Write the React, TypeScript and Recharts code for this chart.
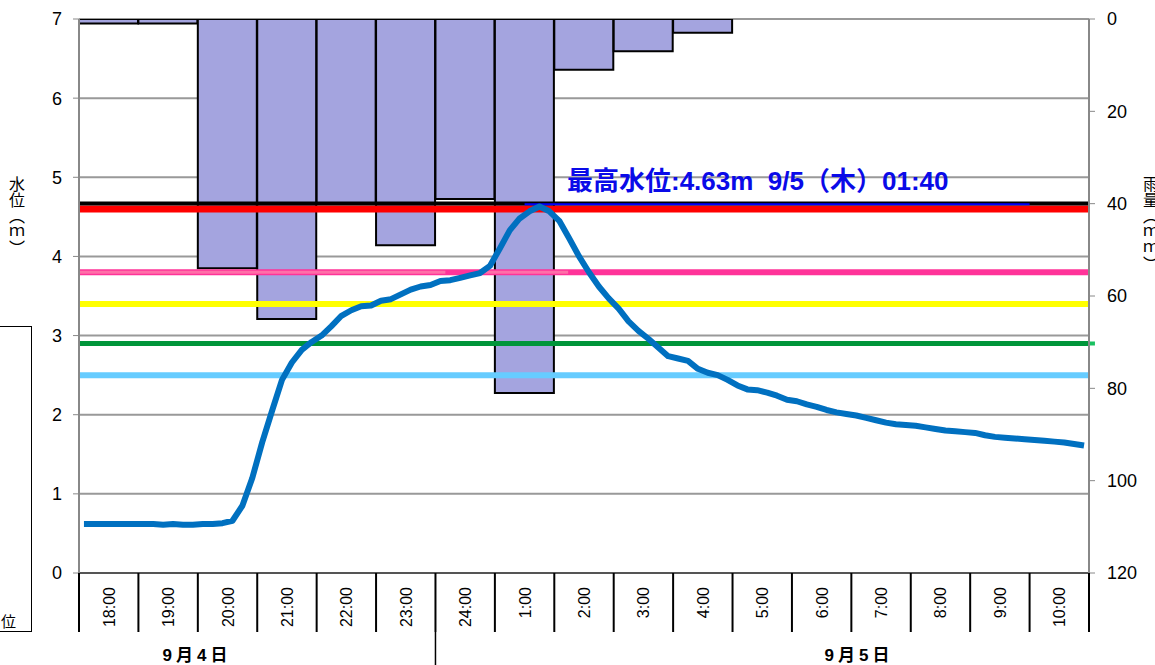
import React from "react"
import {
  Bar,
  CartesianGrid,
  ComposedChart,
  Line,
  ReferenceLine,
  XAxis,
  YAxis,
} from "recharts"

// hourly rainfall (mm), one bar per hour
const hours = [
  "18:00", "19:00", "20:00", "21:00", "22:00", "23:00", "24:00", "1:00", "2:00",
  "3:00", "4:00", "5:00", "6:00", "7:00", "8:00", "9:00", "10:00",
]
const rainfall = [1, 1, 54, 65, 40, 49, 39, 81, 11, 7, 3, 0, 0, 0, 0, 0, 0]

// water level (m), every 10 minutes from 18:00
const waterLevel = [
  0.62, 0.62, 0.62, 0.62, 0.62, 0.62, 0.62, 0.62, 0.61, 0.62, 0.61, 0.61, 0.62, 0.62, 0.63, 0.66,
  0.85, 1.2, 1.65, 2.05, 2.44, 2.66, 2.82, 2.92,
  3.0, 3.12, 3.25, 3.32, 3.37, 3.38, 3.44, 3.46, 3.52, 3.58, 3.62, 3.64, 3.69, 3.7, 3.73, 3.76, 3.79, 3.88,
  4.1, 4.33, 4.48, 4.57, 4.63, 4.57, 4.45, 4.23, 4.0, 3.8, 3.62, 3.47,
  3.34, 3.18, 3.06, 2.96, 2.85, 2.74, 2.71, 2.68, 2.58, 2.53, 2.5, 2.44,
  2.37, 2.32, 2.31, 2.28, 2.24, 2.19, 2.17, 2.13, 2.1, 2.06, 2.03, 2.01,
  1.99, 1.96, 1.93, 1.9, 1.88, 1.87, 1.86, 1.84, 1.82, 1.8, 1.79, 1.78,
  1.77, 1.74, 1.72, 1.71, 1.7, 1.69, 1.68, 1.67, 1.66, 1.65, 1.63, 1.61,
]

const levelTicks = [0, 1, 2, 3, 4, 5, 6, 7]
const rainTicks = [0, 20, 40, 60, 80, 100, 120]
// reference levels: black, red, pink, yellow, green, light blue
const refLevels = [4.67, 4.6, 3.8, 3.4, 2.9, 2.5]
const peakMarkLevel = 4.66
const peakText = "最高水位:4.63m  9/5（木）01:40"
const dates = ["9月4日", "9月5日"]

const rainRows = hours.map((h, i) => ({ hour: h, rain: rainfall[i] }))
const levelRows = waterLevel.map((v, i) => ({ slot: i, level: v }))

const W = 1155
const H = 665
const LEFT = 79
const RIGHT = 66
const band = (W - LEFT - RIGHT) / hours.length
const font = "'Liberation Sans', Arial, sans-serif"
const cjk = "'Noto Sans CJK JP', sans-serif"

function HourTick(props: any) {
  const { x, y, payload, index } = props
  const left = x - band / 2
  return (
    <g>
      <line x1={left} x2={left} y1={y} y2={y + 59} stroke="#000" strokeWidth={2} />
      {index === hours.length - 1 && (
        <line x1={x + band / 2} x2={x + band / 2} y1={y} y2={y + 59} stroke="#000" strokeWidth={2} />
      )}
      {index === 6 && (
        <line x1={left} x2={left} y1={y + 59} y2={y + 95} stroke="#000" strokeWidth={1.5} />
      )}
      <text
        transform={`translate(${x + 6},${y + 14}) rotate(-90)`}
        textAnchor="end"
        fontSize={16}
        fontFamily={font}
        fill="#000"
      >
        {payload.value}
      </text>
    </g>
  )
}

const dateStyle: React.CSSProperties = {
  position: "absolute",
  top: 647,
  transform: "translateX(-50%)",
  fontSize: 17,
  lineHeight: "17px",
  letterSpacing: 4,
  fontWeight: "bold",
  fontFamily: font + ", " + cjk,
  whiteSpace: "nowrap",
}

export default function App() {
  const last = waterLevel.length
  return (
    <div style={{ position: "absolute", left: 0, top: 0, width: W, height: H, overflow: "hidden", background: "#fff", fontFamily: font }}>
      <ComposedChart
        width={W}
        height={H}
        data={rainRows}
        margin={{ top: 19, right: 0, bottom: 0, left: 0 }}
        barCategoryGap={0}
        barGap={0}
      >
        <CartesianGrid xAxisId="cat" yAxisId="lv" vertical={false} stroke="#999" strokeWidth={2} />
        <XAxis
          xAxisId="cat"
          dataKey="hour"
          type="category"
          height={92}
          interval={0}
          tickSize={0}
          tickMargin={0}
          tickLine={false}
          axisLine={{ stroke: "#555", strokeWidth: 2 }}
          tick={<HourTick />}
        />
        <XAxis xAxisId="num" dataKey="slot" type="number" domain={[-0.5, last - 0.5]} allowDataOverflow hide />
        <YAxis
          yAxisId="lv"
          domain={[0, 7]}
          ticks={levelTicks}
          width={LEFT}
          allowDataOverflow
          axisLine={{ stroke: "#888", strokeWidth: 2 }}
          tickLine={{ stroke: "#888" }}
          tickSize={6}
          tickMargin={11}
          tick={{ fontSize: 18, fill: "#000", fontFamily: font }}
        />
        <YAxis
          yAxisId="rain"
          orientation="right"
          reversed
          domain={[0, 120]}
          ticks={rainTicks}
          width={RIGHT}
          allowDataOverflow
          axisLine={{ stroke: "#888", strokeWidth: 2 }}
          tickLine={{ stroke: "#888" }}
          tickSize={6}
          tickMargin={12}
          tick={{ fontSize: 18, fill: "#000", fontFamily: font }}
        />
        <Bar
          xAxisId="cat"
          yAxisId="rain"
          dataKey="rain"
          fill="#A4A4DF"
          stroke="#000"
          strokeWidth={2}
          isAnimationActive={false}
        />
        <ReferenceLine xAxisId="cat" yAxisId="lv" y={refLevels[5]} stroke="#66CCFF" strokeWidth={6} />
        <ReferenceLine
          xAxisId="num"
          yAxisId="lv"
          ifOverflow="visible"
          segment={[{ x: -0.5, y: refLevels[4] }, { x: last + 0.1, y: refLevels[4] }]}
          stroke="#19C060"
          strokeWidth={4}
        />
        <ReferenceLine xAxisId="cat" yAxisId="lv" y={refLevels[4]} stroke="#00953A" strokeWidth={5} />
        <ReferenceLine xAxisId="cat" yAxisId="lv" y={refLevels[3]} stroke="#FFFF00" strokeWidth={6} />
        <ReferenceLine xAxisId="cat" yAxisId="lv" y={refLevels[2]} stroke="#FF3399" strokeWidth={6} />
        <ReferenceLine
          xAxisId="num"
          yAxisId="lv"
          segment={[{ x: -0.5, y: refLevels[2] }, { x: 36.5, y: refLevels[2] }]}
          stroke="#FF6FA8"
          strokeWidth={3}
        />
        <ReferenceLine
          xAxisId="num"
          yAxisId="lv"
          segment={[{ x: 40.4, y: refLevels[2] }, { x: 48.9, y: refLevels[2] }]}
          stroke="#FF6FA8"
          strokeWidth={3}
        />
        <ReferenceLine xAxisId="cat" yAxisId="lv" y={refLevels[1]} stroke="#FF0000" strokeWidth={7} />
        <ReferenceLine xAxisId="cat" yAxisId="lv" y={refLevels[0]} stroke="#000000" strokeWidth={4} />
        <ReferenceLine
          xAxisId="num"
          yAxisId="lv"
          segment={[{ x: 44.5, y: peakMarkLevel }, { x: 95.5, y: peakMarkLevel }]}
          stroke="#0000FF"
          strokeWidth={2}
        />
        <Line
          data={levelRows}
          xAxisId="num"
          yAxisId="lv"
          dataKey="level"
          type="linear"
          stroke="#0070C0"
          strokeWidth={6}
          strokeLinejoin="round"
          dot={false}
          activeDot={false}
          isAnimationActive={false}
        />
      </ComposedChart>

      <div
        style={{
          position: "absolute",
          left: 567,
          top: 166,
          fontSize: 26,
          fontWeight: "bold",
          color: "#0A0AE8",
          fontFamily: `'Liberation Sans', Arial, 'Noto Sans CJK JP', sans-serif`,
          whiteSpace: "pre",
          lineHeight: "30px",
        }}
      >
        {peakText}
      </div>

      <div style={{ position: "absolute", left: 8, top: 176, writingMode: "vertical-rl", fontSize: 16, fontFamily: cjk, lineHeight: "18px", color: "#000" }}>
        水位（ｍ）
      </div>
      <div style={{ position: "absolute", left: 1142, top: 176, writingMode: "vertical-rl", fontSize: 16, fontFamily: cjk, lineHeight: "18px", color: "#000" }}>
        雨量（ｍｍ）
      </div>

      <div style={{ position: "absolute", left: -3, top: 326, width: 35, height: 306, border: "1.5px solid #000", boxSizing: "border-box" }} />
      <div style={{ position: "absolute", left: 1, top: 612, fontSize: 15, fontFamily: cjk, lineHeight: "18px", color: "#000" }}>位</div>

      <div style={{ ...dateStyle, left: 197 }}>{dates[0]}</div>
      <div style={{ ...dateStyle, left: 859 }}>{dates[1]}</div>
    </div>
  )
}
